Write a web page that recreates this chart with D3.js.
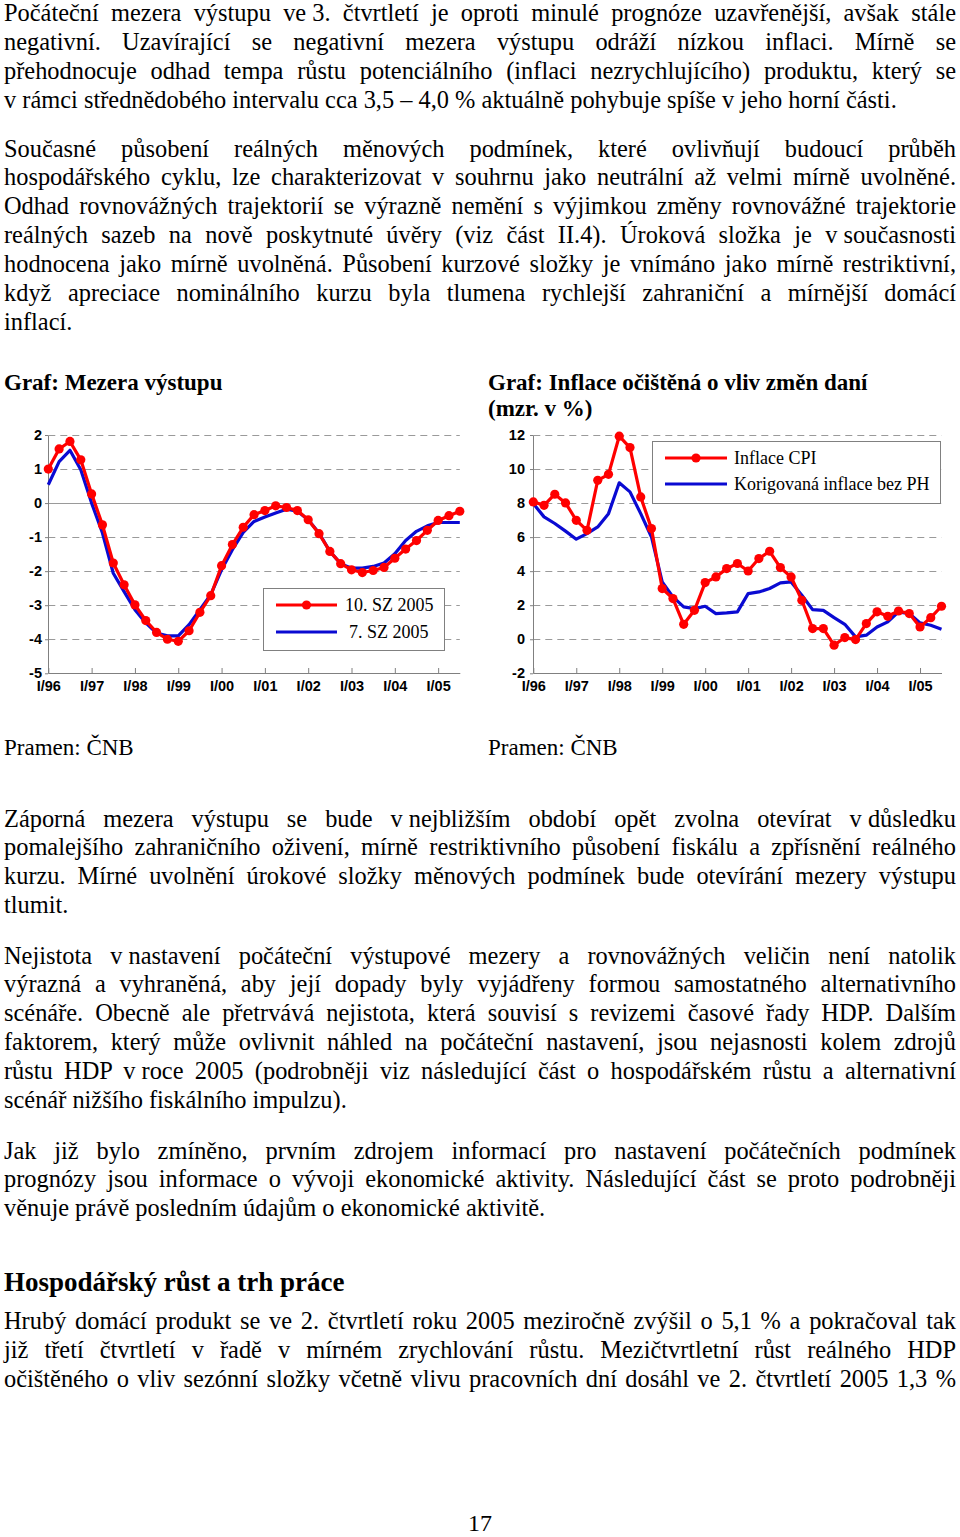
<!DOCTYPE html>
<html>
<head>
<meta charset="utf-8">
<script src="https://cdn.jsdelivr.net/npm/d3@7"></script>
<style>
  body { margin: 0; background: #fff; }
  #page { position: relative; width: 960px; height: 1537px; overflow: hidden;
          font-family: "Liberation Serif", "Times New Roman", serif; color: #000; }
  #page svg { position: absolute; left: 0; top: 0; }
  .ln { position: absolute; left: 4px; white-space: pre; line-height: 1; }
  .ln span.nb { word-spacing: 0; }
  .tick text { font-family: "Liberation Sans", Arial, sans-serif; font-weight: bold; font-size: 14.5px; fill: #000; }
  .lg { font-family: "Liberation Serif", "Times New Roman", serif; font-size: 18px; fill: #000; }
</style>
</head>
<body>
<div id="page"></div>
<script>
// ---- data ----
const years = ["96", "97", "98", "99", "00", "01", "02", "03", "04", "05"];
const romans = ["I", "II", "III", "IV"];
const tickLabels = ["I/96", "I/97", "I/98", "I/99", "I/00", "I/01", "I/02", "I/03", "I/04", "I/05"];

// output gap, % (10. SZ 2005 = current, 7. SZ 2005 = previous)
const gapSZ10 = [1.0, 1.59, 1.81, 1.27, 0.27, -0.64, -1.76, -2.40, -2.99, -3.45, -3.80, -4.0, -4.06,
                 -3.75, -3.21, -2.72, -1.84, -1.22, -0.71, -0.34, -0.22, -0.08, -0.13, -0.22, -0.49,
                 -0.90, -1.42, -1.78, -1.96, -2.04, -1.98, -1.89, -1.62, -1.35, -1.10, -0.80, -0.51,
                 -0.37, -0.24];
const gapSZ7 = [0.54, 1.22, 1.55, 0.98, 0.0, -0.88, -2.06, -2.60, -3.13, -3.52, -3.82, -3.90, -3.90,
                -3.57, -3.13, -2.69, -1.96, -1.37, -0.86, -0.54, -0.41, -0.29, -0.18, -0.24, -0.49,
                -0.88, -1.42, -1.78, -1.91, -1.91, -1.86, -1.76, -1.49, -1.10, -0.83, -0.67, -0.57,
                -0.57, -0.57];
const gapTicks = [2, 1, 0, -1, -2, -3, -4, -5];

// inflation, y/y %
const cpi = [8.07, 7.87, 8.52, 8.01, 6.99, 6.40, 9.34, 9.69, 11.93, 11.26, 8.36, 6.50, 2.98, 2.39,
             0.88, 1.70, 3.33, 3.66, 4.15, 4.45, 4.01, 4.74, 5.17, 4.21, 3.66, 2.29, 0.63, 0.63,
             -0.35, 0.10, -0.02, 0.92, 1.61, 1.35, 1.66, 1.51, 0.72, 1.27, 1.94];
const coreAdj = [7.97, 7.19, 6.80, 6.35, 5.88, 6.21, 6.60, 7.38, 9.19, 8.66, 7.38, 6.01, 3.37, 2.49,
                 1.90, 1.80, 1.94, 1.51, 1.55, 1.61, 2.68, 2.78, 2.98, 3.31, 3.37, 2.59, 1.74, 1.70,
                 1.27, 0.88, 0.14, 0.24, 0.72, 1.02, 1.61, 1.51, 0.96, 0.82, 0.59];
const inflTicks = [12, 10, 8, 6, 4, 2, 0, -2];

// quarters I/96 .. III/05
const quarters = [];
years.forEach(y => romans.forEach(r => quarters.push(r + "/" + y)));
quarters.length = gapSZ10.length;

// ---- text ----
const para1 = [
  "Počáteční mezera výstupu ve~3. čtvrtletí je oproti minulé prognóze uzavřenější, avšak stále",
  "negativní. Uzavírající se negativní mezera výstupu odráží nízkou inflaci. Mírně se",
  "přehodnocuje odhad tempa růstu potenciálního (inflaci nezrychlujícího) produktu, který se",
  "v~rámci střednědobého intervalu cca 3,5 – 4,0 % aktuálně pohybuje spíše v~jeho horní části."
];
const para2 = [
  "Současné působení reálných měnových podmínek, které ovlivňují budoucí průběh",
  "hospodářského cyklu, lze charakterizovat v souhrnu jako neutrální až velmi mírně uvolněné.",
  "Odhad rovnovážných trajektorií se výrazně nemění s výjimkou změny rovnovážné trajektorie",
  "reálných sazeb na nově poskytnuté úvěry (viz část II.4). Úroková složka je v~současnosti",
  "hodnocena jako mírně uvolněná. Působení kurzové složky je vnímáno jako mírně restriktivní,",
  "když apreciace nominálního kurzu byla tlumena rychlejší zahraniční a mírnější domácí",
  "inflací."
];
const para3 = [
  "Záporná mezera výstupu se bude v~nejbližším období opět zvolna otevírat v~důsledku",
  "pomalejšího zahraničního oživení, mírně restriktivního působení fiskálu a zpřísnění reálného",
  "kurzu. Mírné uvolnění úrokové složky měnových podmínek bude otevírání mezery výstupu",
  "tlumit."
];
const para4 = [
  "Nejistota v~nastavení počáteční výstupové mezery a rovnovážných veličin není natolik",
  "výrazná a vyhraněná, aby její dopady byly vyjádřeny formou samostatného alternativního",
  "scénáře. Obecně ale přetrvává nejistota, která souvisí s revizemi časové řady HDP. Dalším",
  "faktorem, který může ovlivnit náhled na počáteční nastavení, jsou nejasnosti kolem zdrojů",
  "růstu HDP v~roce 2005 (podrobněji viz následující část o hospodářském růstu a alternativní",
  "scénář nižšího fiskálního impulzu)."
];
const para5 = [
  "Jak již bylo zmíněno, prvním zdrojem informací pro nastavení počátečních podmínek",
  "prognózy jsou informace o vývoji ekonomické aktivity. Následující část se proto podrobněji",
  "věnuje právě posledním údajům o ekonomické aktivitě."
];
const para6 = [
  "Hrubý domácí produkt se ve 2. čtvrtletí roku 2005 meziročně zvýšil o 5,1 % a pokračoval tak",
  "již třetí čtvrtletí v řadě v mírném zrychlování růstu. Mezičtvrtletní růst reálného HDP",
  "očištěného o vliv sezónní složky včetně vlivu pracovních dní dosáhl ve 2. čtvrtletí 2005 1,3 %"
];

const page = d3.select("#page");
const TEXT_W = 952;
const STEP = 28.9;
const BODY = 24.4;

function line(txt, x, baseline, size, bold, justify) {
  const el = page.append("div").attr("class", "ln")
      .style("left", x + "px")
      .style("top", (baseline - 0.8375 * size) + "px")
      .style("font-size", size + "px")
      .style("font-weight", bold ? "bold" : "normal");
  txt.split("~").forEach((part, i) => {
    if (i > 0) el.append("span").attr("class", "nb").text("\u00a0");
    el.append("span").text(part);
  });
  if (justify) {
    const w = el.node().getBoundingClientRect().width;
    const n = (txt.match(/ /g) || []).length;
    if (n) el.style("word-spacing", ((TEXT_W - w) / n) + "px");
  }
  return el;
}

function paragraph(lines, baseline, justifyLast) {
  lines.forEach((t, i) => {
    line(t, 4, baseline + i * STEP, BODY, false, i < lines.length - 1 || justifyLast);
  });
}

paragraph(para1, 21.8, false);
paragraph(para2, 157, false);
line("Graf: Mezera výstupu", 4, 390, 23, true, false);
line("Graf: Inflace očištěná o vliv změn daní", 488, 390, 23, true, false);
line("(mzr. v %)", 488, 416, 23, true, false);
line("Pramen: ČNB", 4, 755, 23, false, false);
line("Pramen: ČNB", 488, 755, 23, false, false);
paragraph(para3, 827, false);
paragraph(para4, 964, false);
paragraph(para5, 1159, false);
line("Hospodářský růst a trh práce", 4, 1292, 27, true, false);
paragraph(para6, 1329.5, true);
line("17", 468, 1531, 24, false, false);

// ---- charts ----
const svg = page.append("svg").attr("width", 960).attr("height", 1537);

const RED = "#ff0000";
const BLUE = "#0a0ad2";
const GRID = "#9a9a9a";

function drawChart(cfg) {
  const x = d3.scalePoint().domain(quarters).range(cfg.xRange);
  const y = d3.scaleLinear().domain(cfg.yDomain).range([673.3, 435]);
  const g = svg.append("g");

  g.selectAll("line.grid")
    .data(cfg.yTicks.filter(v => v !== cfg.yDomain[0]))
    .join("line")
      .attr("class", "grid")
      .attr("x1", cfg.xRange[0]).attr("x2", cfg.xRange[1])
      .attr("y1", d => Math.round(y(d)) + 0.5).attr("y2", d => Math.round(y(d)) + 0.5)
      .attr("stroke", GRID)
      .attr("stroke-dasharray", d => (d === 0 && cfg.solidZero) ? null : "7,5");

  g.append("g")
    .attr("transform", "translate(0," + Math.round(y(cfg.yDomain[0])) + ")")
    .call(d3.axisBottom(x).tickValues(tickLabels).tickSizeInner(-5).tickSizeOuter(0).tickPadding(7.5))
    .call(a => a.selectAll("path,line").attr("stroke", "#808080"));

  g.append("g")
    .attr("transform", "translate(" + Math.round(cfg.xRange[0]) + ",0)")
    .call(d3.axisLeft(y).tickValues(cfg.yTicks).tickFormat(d => String(d))
      .tickSizeInner(3).tickSizeOuter(0).tickPadding(cfg.pad))
    .call(a => a.selectAll("path,line").attr("stroke", "#808080"));

  const ln = d3.line().x((d, i) => x(quarters[i])).y(d => y(d));

  g.append("path").datum(cfg.blue)
    .attr("fill", "none").attr("stroke", BLUE).attr("stroke-width", 3.2)
    .attr("stroke-linejoin", "round").attr("d", ln);

  g.append("path").datum(cfg.red)
    .attr("fill", "none").attr("stroke", RED).attr("stroke-width", 3.2)
    .attr("stroke-linejoin", "round").attr("d", ln);

  g.selectAll("circle.pt").data(cfg.red).join("circle")
    .attr("class", "pt")
    .attr("cx", (d, i) => x(quarters[i])).attr("cy", d => y(d))
    .attr("r", 4.6).attr("fill", RED);

  // legend
  const L = cfg.legend;
  const lg = g.append("g");
  lg.append("rect")
    .attr("x", L.x + 0.5).attr("y", L.y + 0.5).attr("width", L.w).attr("height", L.h)
    .attr("fill", "#fff").attr("stroke", "#808080");
  lg.append("line").attr("x1", L.lx1).attr("x2", L.lx2).attr("y1", L.y1).attr("y2", L.y1)
    .attr("stroke", RED).attr("stroke-width", 3.2);
  lg.append("circle").attr("cx", (L.lx1 + L.lx2) / 2).attr("cy", L.y1).attr("r", 4.6).attr("fill", RED);
  lg.append("line").attr("x1", L.lx1).attr("x2", L.lx2).attr("y1", L.y2).attr("y2", L.y2)
    .attr("stroke", BLUE).attr("stroke-width", 3.2);
  lg.append("text").attr("class", "lg").attr("x", L.tx1).attr("y", L.y1 + 6).text(cfg.names[0]);
  lg.append("text").attr("class", "lg").attr("x", L.tx2).attr("y", L.y2 + 6).text(cfg.names[1]);
}

drawChart({
  xRange: [48.3, 459.8], yDomain: [-5, 2], yTicks: gapTicks, pad: 3, solidZero: true,
  red: gapSZ10, blue: gapSZ7, names: ["10. SZ 2005", "7. SZ 2005"],
  legend: { x: 263, y: 588, w: 181, h: 62, lx1: 276, lx2: 337, y1: 605, y2: 632, tx1: 345, tx2: 349 }
});

drawChart({
  xRange: [533.3, 941.5], yDomain: [-2, 12], yTicks: inflTicks, pad: 5, solidZero: false,
  red: cpi, blue: coreAdj, names: ["Inflace CPI", "Korigovaná inflace bez PH"],
  legend: { x: 652, y: 441, w: 288, h: 62, lx1: 665, lx2: 727, y1: 458, y2: 484, tx1: 734, tx2: 734 }
});
</script>
</body>
</html>
